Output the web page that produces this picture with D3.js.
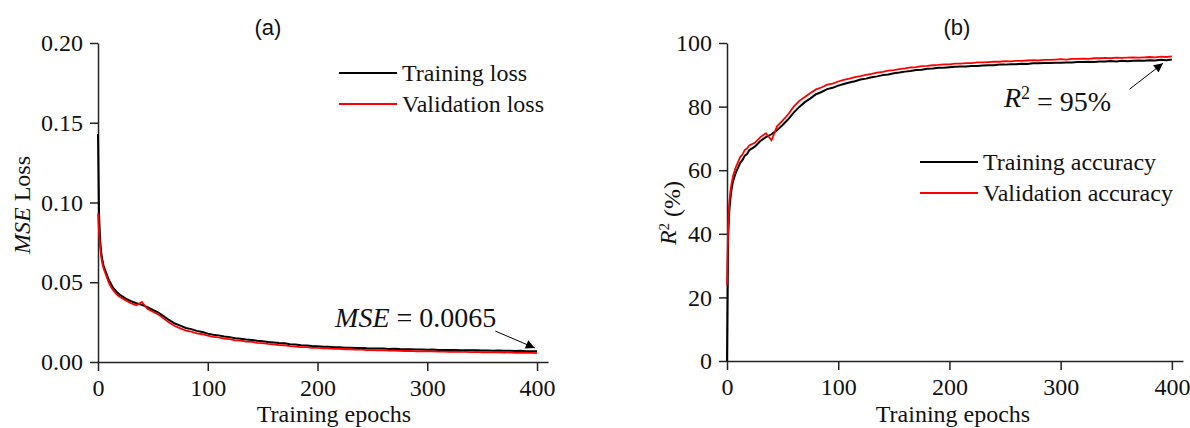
<!DOCTYPE html>
<html>
<head>
<meta charset="utf-8">
<script src="https://cdn.jsdelivr.net/npm/d3@7"></script>
<style>
  body { margin: 0; background: #fff; }
  svg { display: block; }
  .axis text { font-family: "Liberation Serif", "Times New Roman", serif; font-size: 24px; fill: #111; }
  .axis path, .axis line { stroke: #222; stroke-width: 1.5px; }
  .lbl { font-family: "Liberation Serif", "Times New Roman", serif; font-size: 24px; fill: #111; }
  .ttl { font-family: "Liberation Sans", Arial, sans-serif; font-size: 22px; fill: #111; }
</style>
</head>
<body>
<div id="chart"></div>
<script>
// epochs sampled from the training log
var epochs = [0,1,2,3,4,5,6,8,10,12,14,16,18,20,25,30,35,40,45,50,55,60,65,70,75,80,85,90,95,100,
  105,110,115,120,125,130,135,140,145,150,155,160,165,170,175,180,185,190,195,200,
  205,210,215,220,225,230,235,240,245,250,255,260,265,270,275,280,285,290,295,300,
  305,310,315,320,325,330,335,340,345,350,355,360,365,370,375,380,385,390,395,400];

var trainLoss = [.143,.091,.076,.068,.064,.0605,.0585,.0548,.0512,.0488,.0462,.0448,.0432,.0421,.0399,.0381,.0368,.0358,.0344,.0326,
  .0309,.0286,.0262,.0241,.0228,.0213,.0206,.0195,.0188,.0178,
  .0171,.0167,.0160,.0156,.0149,.0146,.0141,.0138,.0133,.0130,.0126,.0123,.0119,.0117,.0112,.0109,.0105,.0104,.0100,.0099,
  .0096,.0096,.0093,.0093,.0090,.0090,.0088,.0088,.0086,.0085,.0084,.0084,.0082,.0083,.0081,.0080,.0080,.0078,.0079,.0077,
  .0078,.0076,.0076,.0075,.0076,.0074,.0074,.0073,.0074,.0072,.0072,.0071,.0072,.0070,.0071,.0069,.0070,.0068,.0068,.0067];

var valLoss = [.093,.081,.072,.0655,.0615,.0590,.0570,.0532,.0495,.0468,.0448,.0432,.0418,.0408,.0388,.0369,.0356,.0376,.0334,.0315,
  .0298,.0272,.0246,.0226,.0211,.0197,.0190,.0180,.0174,.0166,
  .0157,.0154,.0147,.0143,.0136,.0134,.0128,.0126,.0120,.0118,.0113,.0111,.0106,.0105,.0100,.0097,.0093,.0093,.0089,.0088,
  .0085,.0086,.0082,.0083,.0080,.0080,.0077,.0078,.0075,.0075,.0073,.0074,.0071,.0072,.0070,.0069,.0070,.0067,.0068,.0066,
  .0067,.0065,.0065,.0064,.0065,.0063,.0063,.0062,.0063,.0061,.0061,.0060,.0061,.0059,.0060,.0058,.0059,.0057,.0057,.0056];

var trainR2 = [0,39,47,51,53.8,55.8,57.2,59.3,60.8,62.4,63.2,64.6,65.1,66.3,67.4,69.2,70.4,71.3,72.6,74.2,
  76.0,78.1,79.9,81.4,82.6,83.9,84.6,85.5,85.9,86.6,
  87.1,87.6,88.0,88.5,88.8,89.2,89.5,89.9,90.1,90.5,90.7,91.0,91.2,91.5,91.6,91.9,92.0,92.2,92.2,92.4,
  92.5,92.6,92.6,92.8,92.8,92.9,93.0,93.0,93.2,93.2,93.3,93.3,93.5,93.4,93.6,93.6,93.7,93.7,93.8,93.8,
  93.9,93.9,94.0,94.0,94.1,94.0,94.2,94.2,94.3,94.2,94.4,94.3,94.4,94.5,94.4,94.6,94.5,94.7,94.6,94.8];

var valR2 = [24,42,49.5,53.2,55.6,57.4,58.9,61.0,62.6,64.2,65.0,66.4,66.8,67.8,68.6,70.4,71.6,69.4,73.8,75.6,
  77.6,80.0,81.8,83.0,84.3,85.4,86.0,86.9,87.2,87.9,
  88.4,88.8,89.3,89.6,90.0,90.3,90.7,90.9,91.3,91.5,91.8,92.0,92.3,92.4,92.7,92.8,93.0,93.1,93.3,93.3,
  93.5,93.5,93.7,93.7,93.9,93.9,94.0,94.1,94.1,94.3,94.2,94.4,94.4,94.5,94.6,94.5,94.7,94.7,94.8,94.9,
  94.8,95.0,95.0,95.1,95.0,95.2,95.2,95.3,95.2,95.4,95.3,95.4,95.5,95.4,95.5,95.6,95.5,95.7,95.6,95.8];

var xTicks = [0, 100, 200, 300, 400];
var lossTicks = [0, 0.05, 0.10, 0.15, 0.20];
var r2Ticks = [0, 20, 40, 60, 80, 100];

var svg = d3.select('#chart').append('svg').attr('width', 1190).attr('height', 428);
svg.append('rect').attr('width', 1190).attr('height', 428).attr('fill', '#fff');

svg.append('defs').append('marker')
  .attr('id', 'arr').attr('viewBox', '0 0 10 10').attr('refX', 10).attr('refY', 5)
  .attr('markerWidth', 10).attr('markerHeight', 9).attr('markerUnits', 'userSpaceOnUse')
  .attr('orient', 'auto')
  .append('path').attr('d', 'M0,0L10,5L0,10Z').attr('fill', '#000');

var drawPanel = (p) => {
  var x = d3.scaleLinear().domain([0, 410]).range([p.left, p.right]);
  var y = d3.scaleLinear().domain(p.yDomain).range([p.bottom, p.top]);
  var g = svg.append('g');

  g.append('g').attr('class', 'axis').attr('transform', 'translate(0,' + p.bottom + ')')
    .call(d3.axisBottom(x).tickValues(xTicks).tickSize(9).tickSizeOuter(0).tickPadding(8));
  g.append('g').attr('class', 'axis').attr('transform', 'translate(' + p.left + ',0)')
    .call(d3.axisLeft(y).tickValues(p.yTicks).tickFormat(p.fmt).tickSize(8).tickSizeOuter(0).tickPadding(7));

  var line = (vals) => d3.line().x((d, i) => x(epochs[i])).y((d) => y(d))(vals);
  g.append('path').attr('d', line(p.train)).attr('fill', 'none').attr('stroke', '#000').attr('stroke-width', 2);
  g.append('path').attr('d', line(p.val)).attr('fill', 'none').attr('stroke', '#ff0000').attr('stroke-width', 1.8);

  // panel title
  g.append('text').attr('class', 'ttl').attr('x', p.titleX).attr('y', 35).attr('text-anchor', 'middle').text(p.title);

  // x title
  g.append('text').attr('class', 'lbl').attr('x', p.xTitle).attr('y', 422)
    .attr('text-anchor', 'middle').text('Training epochs');

  // legend
  p.legend.forEach((name, i) => {
    var ly = p.legY + i * 31;
    g.append('line').attr('x1', p.legX).attr('x2', p.legX + 58).attr('y1', ly).attr('y2', ly)
      .attr('stroke', i ? '#ff0000' : '#000').attr('stroke-width', 2);
    g.append('text').attr('class', 'lbl').attr('x', p.legX + 63).attr('y', ly).attr('dy', '0.33em').text(name);
  });

  // annotation arrow
  g.append('line')
    .attr('x1', x(p.arrow[0])).attr('y1', y(p.arrow[1]))
    .attr('x2', x(p.arrow[2])).attr('y2', y(p.arrow[3]))
    .attr('stroke', '#000').attr('stroke-width', 1).attr('marker-end', 'url(#arr)');

  return {x: x, y: y, g: g};
};

var a = drawPanel({
  left: 98, right: 548, top: 43, bottom: 362,
  yDomain: [0, 0.2], yTicks: lossTicks, fmt: d3.format('.2f'),
  train: trainLoss, val: valLoss,
  title: '(a)', titleX: 268, xTitle: 334,
  legend: ['Training loss', 'Validation loss'], legX: 339, legY: 73,
  arrow: [362, 0.0194, 398, 0.0088]
});

var t1 = a.g.append('text').attr('class', 'lbl').attr('x', a.x(216)).attr('y', a.y(0.0219)).style('font-size', '28px');
t1.append('tspan').style('font-style', 'italic').text('MSE');
t1.append('tspan').text(' = 0.0065');

var yl1 = a.g.append('text').attr('class', 'lbl').attr('text-anchor', 'middle')
  .attr('transform', 'translate(30,205) rotate(-90)');
yl1.append('tspan').style('font-style', 'italic').text('MSE');
yl1.append('tspan').text(' Loss');

var b = drawPanel({
  left: 727, right: 1183, top: 43, bottom: 361,
  yDomain: [0, 100], yTicks: r2Ticks, fmt: d3.format('d'),
  train: trainR2, val: valR2,
  title: '(b)', titleX: 957, xTitle: 953,
  legend: ['Training accuracy', 'Validation accuracy'], legX: 920, legY: 162,
  arrow: [362, 85.5, 392, 93.6]
});

var t2 = b.g.append('text').attr('class', 'lbl').attr('x', b.x(249)).attr('y', b.y(79.9)).style('font-size', '28px');
t2.append('tspan').style('font-style', 'italic').text('R');
t2.append('tspan').attr('dy', '-0.45em').style('font-size', '18px').text('2');
t2.append('tspan').attr('dy', '0.45em').text(' = 95%');

var yl2 = b.g.append('text').attr('class', 'lbl').attr('text-anchor', 'middle')
  .attr('transform', 'translate(676,213) rotate(-90)');
yl2.append('tspan').style('font-style', 'italic').text('R');
yl2.append('tspan').attr('dy', '-0.45em').style('font-size', '15px').text('2');
yl2.append('tspan').attr('dy', '0.45em').text(' (%)');
</script>
</body>
</html>
